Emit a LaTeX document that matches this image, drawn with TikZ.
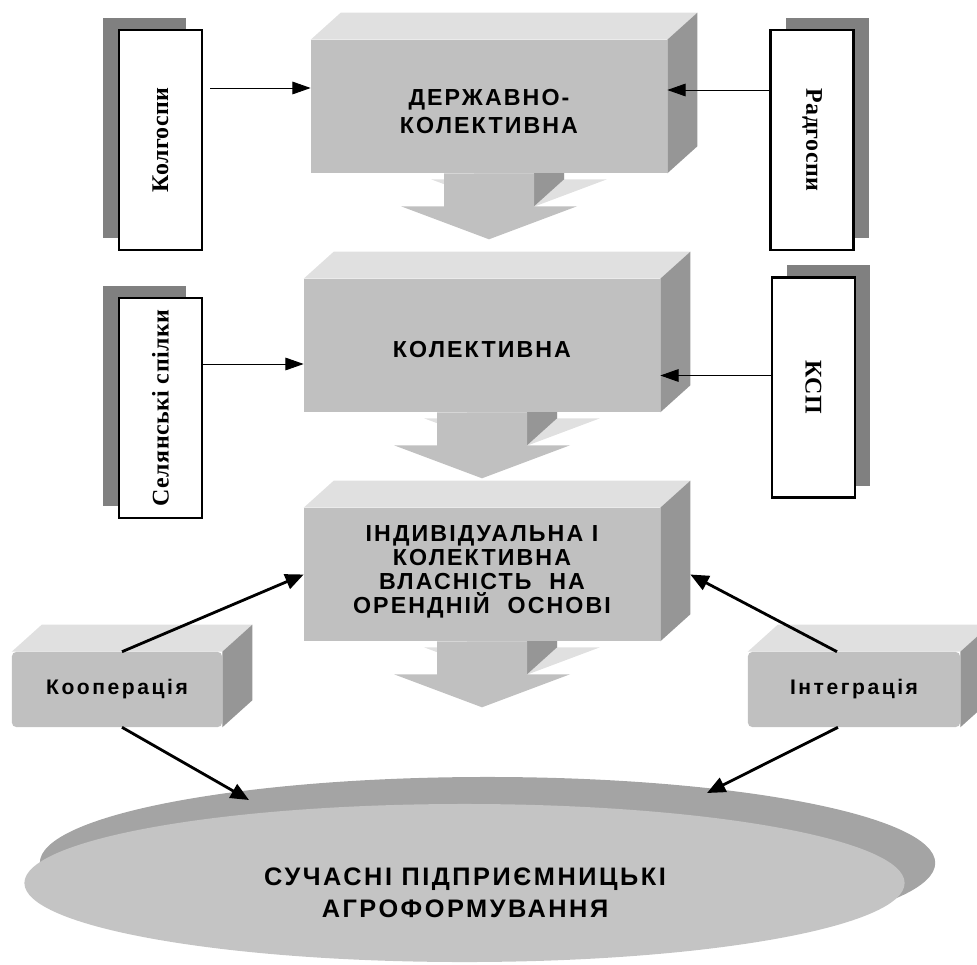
\documentclass[tikz,border=0pt]{standalone}
\usepackage{fontspec}
\setmainfont{Liberation Serif}
\setsansfont{Liberation Sans}
\newfontfamily\boxfont[LetterSpace=9]{Liberation Sans}
\newfontfamily\tagfont[LetterSpace=12]{Liberation Sans}
\newfontfamily\discfont[LetterSpace=10]{Liberation Sans}
\newfontfamily\sidefont[LetterSpace=2]{Liberation Serif}
\usetikzlibrary{arrows.meta,shadows,backgrounds,calc}
\definecolor{frontgray}{HTML}{C0C0C0}
\definecolor{topgray}{HTML}{E0E0E0}
\definecolor{sidegray}{HTML}{969696}
\definecolor{shadowgray}{HTML}{808080}
\definecolor{discgray}{HTML}{A4A4A4}
\definecolor{discfront}{HTML}{C4C4C4}
\newcommand{\boxlines}[2]{\raisebox{#1}[\height][\depth]{\begin{tabular}{@{}c@{}}#2\end{tabular}}}

\begin{document}
\begin{tikzpicture}[x=0.025cm, y=-0.025cm,
		bigbox/.style={rectangle, fill=frontgray, minimum width=8.9cm, minimum height=3.325cm, inner sep=0pt, font=\boxfont\bfseries\fontsize{16.5}{20}\selectfont},
		tagbox/.style={rectangle, fill=frontgray, rounded corners=3pt, minimum height=1.875cm, inner sep=0pt, font=\tagfont\bfseries\fontsize{15}{18}\selectfont},
		sidebox/.style={rectangle, draw, line width=1.8pt, fill=white, minimum width=2.075cm, minimum height=5.5cm, inner sep=0pt, font=\sidefont\bfseries\fontsize{17}{20}\selectfont},
		leftshadow/.style={drop shadow={shadow xshift=-0.4cm, shadow yshift=0.3cm, fill=shadowgray, opacity=1}},
		rightshadow/.style={drop shadow={shadow xshift=0.38cm, shadow yshift=0.3cm, fill=shadowgray, opacity=1}},
		feed/.style={line width=0.7pt, -{Triangle[length=13pt, width=9pt]}},
		link/.style={line width=2pt, -{Triangle[length=13pt, width=11pt]}}]
		\useasboundingbox (0,0) rectangle (977,964);

		\fill[discgray] (487.5,863) ellipse [x radius=11.19cm, y radius=2.15cm];
		\fill[discfront] (464.5,883) ellipse [x radius=11cm, y radius=1.975cm];
		\node[font=\discfont\bfseries\fontsize{18}{23}\selectfont, align=center] (agro) at (465,893) {СУЧАСНІ ПІДПРИЄМНИЦЬКІ\\АГРОФОРМУВАННЯ};

		\node[bigbox] (derzh) at (489,106.5) {\boxlines{-5pt}{ДЕРЖАВНО-\\КОЛЕКТИВНА}};
		\node[bigbox] (kolekt) at (482,345.5) {\boxlines{-4.5pt}{КОЛЕКТИВНА}};
		\node[bigbox, font=\boxfont\bfseries\fontsize{16.5}{17}\selectfont] (indiv) at (482,574.5) {\boxlines{1pt}{ІНДИВІДУАЛЬНА І\\КОЛЕКТИВНА\\ВЛАСНІСТЬ\hspace{0.4em} НА\\[-3pt]ОРЕНДНІЙ\hspace{0.4em} ОСНОВІ}};
		\node[tagbox, minimum width=5.25cm] (coop) at (117,689.5) {Кооперація};
		\node[tagbox, minimum width=5.3cm] (integ) at (854,689.5) {Інтеграція};

		\node[sidebox, leftshadow] (kolg) at (160.5,140) {\rotatebox{90}{Колгоспи}};
		\node[sidebox, rightshadow] (radg) at (812,140) {\rotatebox{-90}{Радгоспи}};
		\node[sidebox, leftshadow] (selo) at (160.5,408) {\rotatebox{90}{Селянські спілки}};
		\node[sidebox, rightshadow] (ksp) at (813.5,387.5) {\rotatebox{-90}{КСП}};

		\begin{pgfonlayer}{background}
			\foreach \b in {derzh,kolekt,indiv,coop,integ}{
				\fill[topgray] (\b.north west) -- ++(30,-27) -- ([shift={(30,-27)}]\b.north east) -- (\b.north east) -- cycle;
				\fill[sidegray] (\b.north east) -- ++(30,-27) -- ([shift={(30,-27)}]\b.south east) -- (\b.south east) -- cycle;
			}
			\foreach \b in {derzh,kolekt,indiv}{
				\fill[topgray] ([shift={(-15,-27)}]\b.south) -- ++(0,33) -- ++(-43,0) -- ++(88,33) -- ++(88,-33) -- ++(-43,0) -- ++(0,-33) -- cycle;
				\fill[sidegray] ([shift={(45,0)}]\b.south) -- ++(30,-27) -- ++(0,33) -- ++(-30,27) -- cycle;
				\fill[frontgray] ([shift={(-45,0)}]\b.south) -- ++(0,33) -- ++(-43,0) -- ++(88,33) -- ++(88,-33) -- ++(-43,0) -- ++(0,-33) -- cycle;
			}
		\end{pgfonlayer}

		\coordinate (kolgOut) at ([shift={(7,-52)}]kolg.east);
		\coordinate (radgOut) at ([shift={(0,-50)}]radg.west);
		\coordinate (seloOut) at ([shift={(0,-44)}]selo.east);
		\coordinate (kspOut) at ([shift={(0,-12)}]ksp.west);
		\coordinate (coopIn) at (249,800);
		\coordinate (integIn) at (707,793);

		\draw[feed] (kolgOut) -- (kolgOut -| derzh.west);
		\draw[feed] (radgOut) -- (radgOut -| derzh.east);
		\draw[feed] (seloOut) -- (seloOut -| kolekt.west);
		\draw[feed] (kspOut) -- (kspOut -| kolekt.east);

		\draw[link] ([shift={(5,0)}]coop.north) -- (indiv.west);
		\draw[link] ([shift={(-17,0)}]integ.north) -- ([shift={(30,0)}]indiv.east);
		\draw[link] ([shift={(5,0)}]coop.south) -- (coopIn);
		\draw[link] ([shift={(-16,0)}]integ.south) -- (integIn);
	\end{tikzpicture}
\end{document}
